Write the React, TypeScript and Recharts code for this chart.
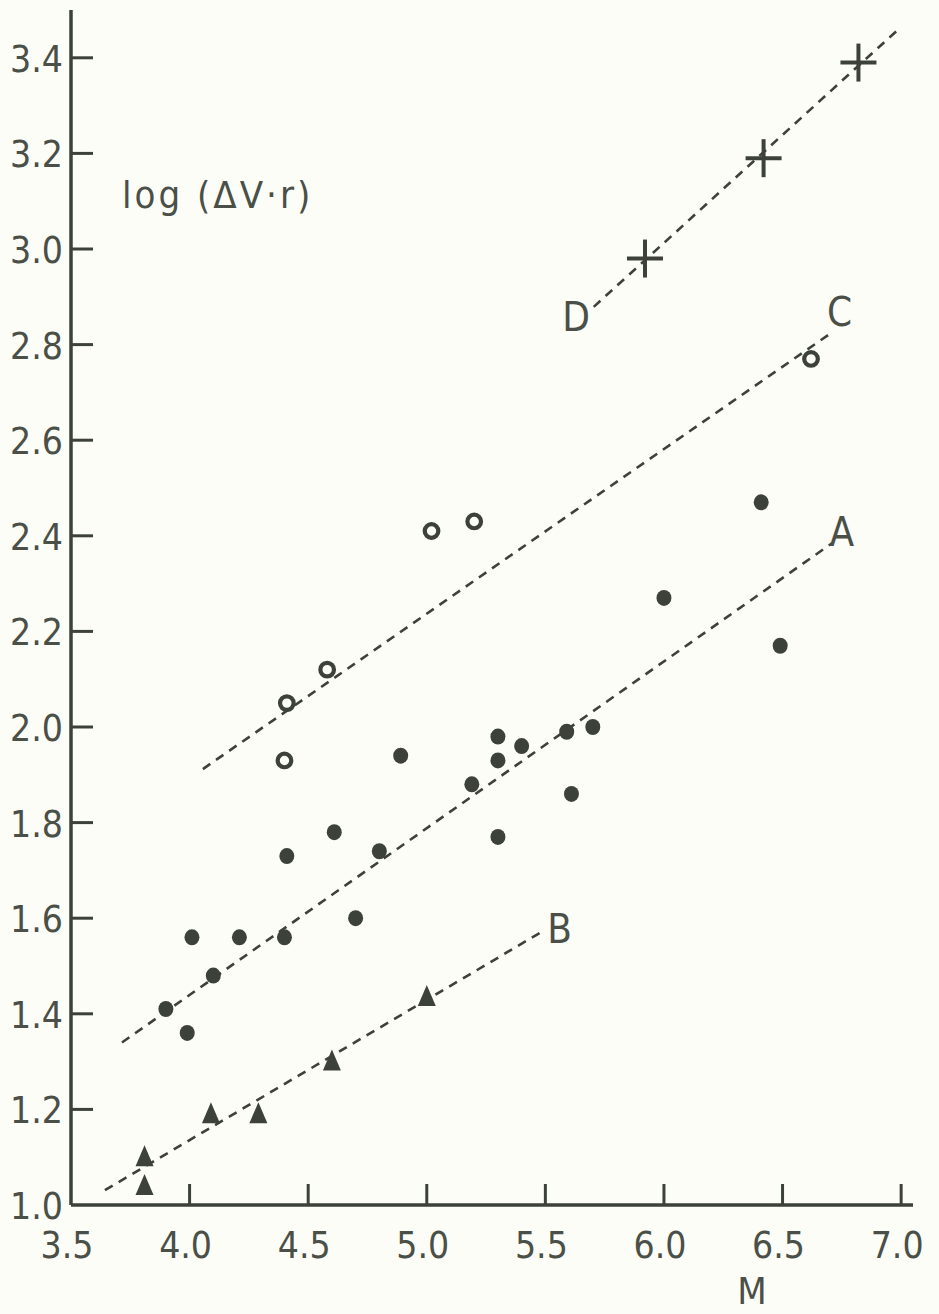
import React from "react";
import {
  ScatterChart,
  Scatter,
  XAxis,
  YAxis,
  ReferenceLine,
  ReferenceDot,
  Label,
} from "recharts";

// axis ticks
const xTicks = [3.5, 4.0, 4.5, 5.0, 5.5, 6.0, 6.5, 7.0];
const yTicks = [1.0, 1.2, 1.4, 1.6, 1.8, 2.0, 2.2, 2.4, 2.6, 2.8, 3.0, 3.2, 3.4];

// group A (filled circles)
const aM = [3.9, 3.99, 4.01, 4.1, 4.21, 4.4, 4.41, 4.61, 4.7, 4.8, 4.89, 5.19, 5.3, 5.3, 5.3, 5.4, 5.59, 5.61, 5.7, 6.0, 6.41, 6.49];
const aLog = [1.41, 1.36, 1.56, 1.48, 1.56, 1.56, 1.73, 1.78, 1.6, 1.74, 1.94, 1.88, 1.98, 1.93, 1.77, 1.96, 1.99, 1.86, 2.0, 2.27, 2.47, 2.17];

// group B (triangles)
const bM = [3.81, 3.81, 4.09, 4.29, 4.6, 5.0];
const bLog = [1.1, 1.04, 1.19, 1.19, 1.3, 1.435];

// group C (open circles)
const cM = [4.4, 4.41, 4.58, 5.02, 5.2, 6.62];
const cLog = [1.93, 2.05, 2.12, 2.41, 2.43, 2.77];

// group D (crosses)
const dM = [5.92, 6.42, 6.82];
const dLog = [2.98, 3.19, 3.39];

// fitted lines, start / end
const fitAM = [3.715, 6.71];
const fitALog = [1.34, 2.385];
const fitBM = [3.643, 5.476];
const fitBLog = [1.031, 1.569];
const fitCM = [4.056, 6.71];
const fitCLog = [1.912, 2.826];
const fitDM = [5.704, 6.985];
const fitDLog = [2.879, 3.458];

// line names and where they're written
const lineNames = ["A", "B", "C", "D"];
const nameM = [6.75, 5.56, 6.74, 5.63];
const nameLog = [2.41, 1.58, 2.87, 2.86];

const ink = "#3c4139";
const textInk = "#4a4f47";
const paper = "#fdfdf7";
const font = "'Liberation Sans Narrow', 'DejaVu Sans Condensed', 'Liberation Sans', sans-serif";

const toRows = (m: number[], v: number[]) => m.map((x, i) => ({ m: x, log: v[i] }));

const Dot = (p: any) => <ellipse cx={p.cx} cy={p.cy} rx={7.5} ry={8} fill={ink} />;
const Ring = (p: any) => (
  <circle cx={p.cx} cy={p.cy} r={6.8} fill={paper} stroke={ink} strokeWidth={4.2} />
);
const Tri = (p: any) => (
  <polygon
    points={`${p.cx},${p.cy - 12} ${p.cx - 9},${p.cy + 9} ${p.cx + 9},${p.cy + 9}`}
    fill={ink}
  />
);
const Cross = (p: any) => (
  <g stroke={ink} strokeWidth={4}>
    <line x1={p.cx - 18} y1={p.cy} x2={p.cx + 18} y2={p.cy} />
    <line x1={p.cx} y1={p.cy - 19} x2={p.cx} y2={p.cy + 19} />
  </g>
);

const XTick = (p: any) => {
  const v = p.payload.value;
  return (
    <g>
      {v !== xTicks[0] && (
        <line x1={p.x} y1={p.y} x2={p.x} y2={p.y - 21} stroke={ink} strokeWidth={3} />
      )}
      <text x={p.x - 4} y={p.y + 53} textAnchor="middle" fontFamily={font} fontSize={37} fill={textInk}>
        {v.toFixed(1)}
      </text>
    </g>
  );
};

const YTick = (p: any) => {
  const v = p.payload.value;
  return (
    <g>
      {v !== yTicks[0] && (
        <line x1={p.x} y1={p.y} x2={p.x + 22} y2={p.y} stroke={ink} strokeWidth={3} />
      )}
      <text x={p.x - 8} y={p.y + 14} textAnchor="end" fontFamily={font} fontSize={37} fill={textInk}>
        {v.toFixed(1)}
      </text>
    </g>
  );
};

const dash = "9 7";

export default function App() {
  const fits = [
    [fitAM, fitALog],
    [fitBM, fitBLog],
    [fitCM, fitCLog],
    [fitDM, fitDLog],
  ];
  return (
    <div style={{ position: "absolute", left: 0, top: 0, width: 939, height: 1314, background: paper }}>
      <ScatterChart width={939} height={1314} margin={{ top: 10, right: 26, bottom: 0, left: 0 }}>
        <XAxis
          type="number"
          dataKey="m"
          domain={[3.5, 7.05]}
          ticks={xTicks}
          height={109}
          tickSize={0}
          tickMargin={0}
          tickLine={false}
          tick={<XTick />}
          axisLine={{ stroke: ink, strokeWidth: 3.5 }}
          allowDataOverflow
        >
          <Label
            content={(props: any) => (
              <text
                x={props.viewBox.x + 681}
                y={props.viewBox.y + 99}
                textAnchor="middle"
                fontFamily={font}
                fontSize={38}
                fill={textInk}
              >
                M
              </text>
            )}
          />
        </XAxis>
        <YAxis
          type="number"
          dataKey="log"
          domain={[1.0, 3.5]}
          ticks={yTicks}
          width={71}
          tickSize={0}
          tickMargin={0}
          tickLine={false}
          tick={<YTick />}
          axisLine={{ stroke: ink, strokeWidth: 3.5 }}
          allowDataOverflow
        >
          <Label
            content={(props: any) => (
              <text
                x={props.viewBox.x + props.viewBox.width + 51}
                y={props.viewBox.y + 198}
                fontFamily={font}
                fontSize={38}
                letterSpacing={3}
                fill={textInk}
              >
                log (ΔV·r)
              </text>
            )}
          />
        </YAxis>

        {fits.map(([fm, fl], i) => (
          <ReferenceLine
            key={i}
            segment={[
              { x: fm[0], y: fl[0] },
              { x: fm[1], y: fl[1] },
            ]}
            stroke={ink}
            strokeWidth={2.6}
            strokeDasharray={dash}
            ifOverflow="visible"
          />
        ))}

        {lineNames.map((n, i) => (
          <ReferenceDot
            key={n}
            x={nameM[i]}
            y={nameLog[i]}
            ifOverflow="visible"
            shape={(p: any) => (
              <text
                x={p.cx}
                y={p.cy + 15}
                textAnchor="middle"
                fontFamily={font}
                fontSize={40}
                fill={textInk}
              >
                {n}
              </text>
            )}
          />
        ))}

        <Scatter data={toRows(aM, aLog)} shape={Dot} isAnimationActive={false} />
        <Scatter data={toRows(bM, bLog)} shape={Tri} isAnimationActive={false} />
        <Scatter data={toRows(cM, cLog)} shape={Ring} isAnimationActive={false} />
        <Scatter data={toRows(dM, dLog)} shape={Cross} isAnimationActive={false} />
      </ScatterChart>
    </div>
  );
}
